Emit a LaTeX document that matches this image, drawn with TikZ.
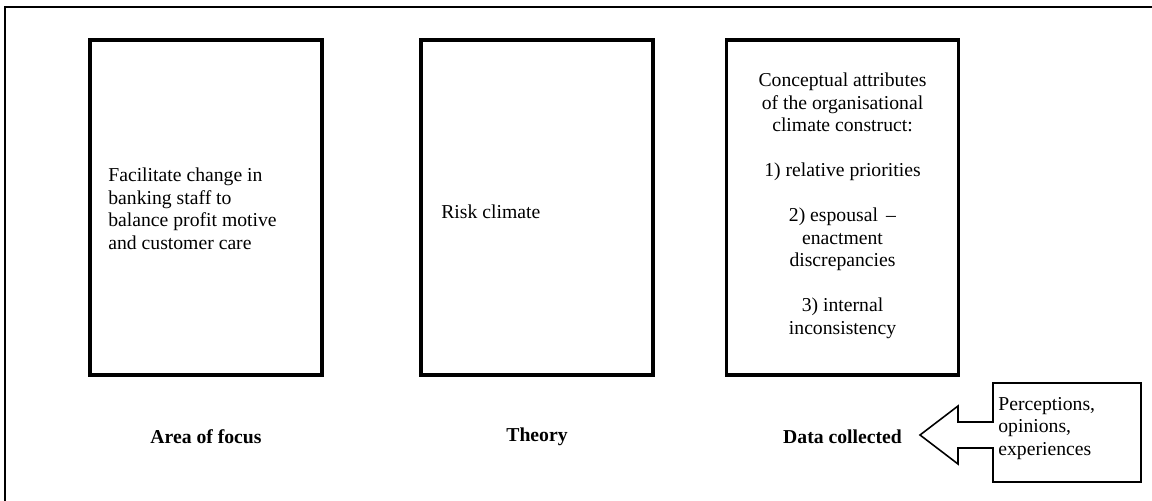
\documentclass[tikz,border=0pt]{standalone}
\usepackage{fontspec}
\setmainfont{Liberation Serif}
\usetikzlibrary{positioning}

\tikzset{
  panel/.style={draw, line width=2pt, minimum width=4.64cm, minimum height=6.70cm, inner sep=0pt},
  body/.style={font=\fontsize{11.2}{12.8}\selectfont, inner sep=0pt},
  caption/.style={font=\fontsize{11.2}{12.8}\selectfont\bfseries, inner sep=0pt}
}

\begin{document}
\begin{tikzpicture}
\useasboundingbox (0,0) rectangle (23.04,10.02);
\draw[line width=1.4pt] (0.1,0) -- (0.1,9.88) -- (23.04,9.88);
% the three panels
\node[panel] (focus) at (4.12,5.87) {};
\node[panel] (theory) at (10.74,5.87) {};
\node[panel] (data) at (16.85,5.87) {};
\node[body, align=left, anchor=west] (focustxt) at (2.16,5.84) {Facilitate change in\\banking staff to\\balance profit motive\\and customer care};
\node[body, anchor=west] (theorytxt) at (8.82,5.78) {Risk climate};
\node[body, align=center] (datatxt) at (16.85,5.90) {Conceptual attributes\\of the organisational\\climate construct:\\[12.8pt]1) relative priorities\\[12.8pt]2) espousal \,–\\enactment\\discrepancies\\[12.8pt]3) internal\\inconsistency};
% captions
\node[caption] (focuslbl) at (4.12,1.28) {Area of focus};
\node[caption] (theorylbl) at (10.74,1.28) {Theory};
\node[caption] (datalbl) at (16.85,1.28) {Data collected};
% arrow callout
\draw[line width=0.9pt, line join=miter] (22.82,2.36) -- (19.86,2.36) -- (19.86,1.58) -- (19.16,1.58) -- (19.16,1.90) -- (18.40,1.32) -- (19.16,0.74) -- (19.16,1.06) -- (19.86,1.06) -- (19.86,0.38) -- (22.82,0.38) -- cycle;
\node[body, align=left, anchor=north west] (sourcetxt) at (19.96,2.08) {Perceptions,\\opinions,\\experiences};
\end{tikzpicture}
\end{document}
